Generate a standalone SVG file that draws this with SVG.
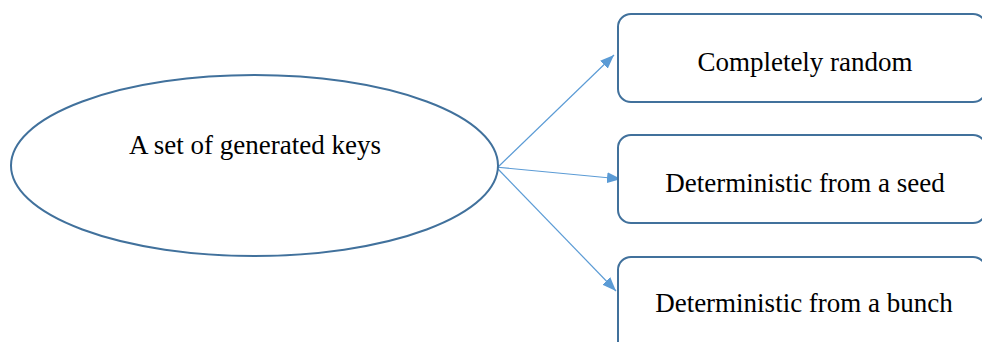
<svg xmlns="http://www.w3.org/2000/svg" width="982" height="342" viewBox="0 0 982 342">
<style>
.shape{fill:#FFFFFF;stroke:#41719C;stroke-width:2}
.lbl{font-family:"Liberation Serif","Times New Roman",serif;font-size:27px;fill:#000000;text-anchor:middle}
.conn{stroke:#5B9BD5;stroke-width:1.2;fill:none}
</style>
<defs>
<marker id="ah" viewBox="0 0 14 11" refX="14" refY="5.5" markerWidth="14" markerHeight="11" markerUnits="userSpaceOnUse" orient="auto">
<path d="M0,0 L14,5.5 L0,11 Z" fill="#5B9BD5"/>
</marker>
</defs>
<rect width="982" height="342" fill="#FFFFFF"/>
<g id="connectors">
<line class="conn" x1="497" y1="168" x2="614" y2="55" marker-end="url(#ah)"/>
<line class="conn" x1="495" y1="167" x2="621" y2="179" marker-end="url(#ah)"/>
<line class="conn" x1="497" y1="168" x2="616" y2="291" marker-end="url(#ah)"/>
</g>
<g id="node-keys">
<ellipse class="shape" cx="254.5" cy="165.5" rx="243.5" ry="90.5"/>
<text class="lbl" x="255" y="154">A set of generated keys</text>
</g>
<g id="node-random">
<rect class="shape" x="618" y="14" width="368" height="88" rx="13"/>
<text class="lbl" x="805" y="71">Completely random</text>
</g>
<g id="node-seed">
<rect class="shape" x="618" y="135" width="368" height="88" rx="13"/>
<text class="lbl" x="805" y="192">Deterministic from a seed</text>
</g>
<g id="node-bunch">
<rect class="shape" x="618" y="257" width="368" height="100" rx="13"/>
<text class="lbl" x="804" y="312">Deterministic from a bunch</text>
</g>
</svg>
